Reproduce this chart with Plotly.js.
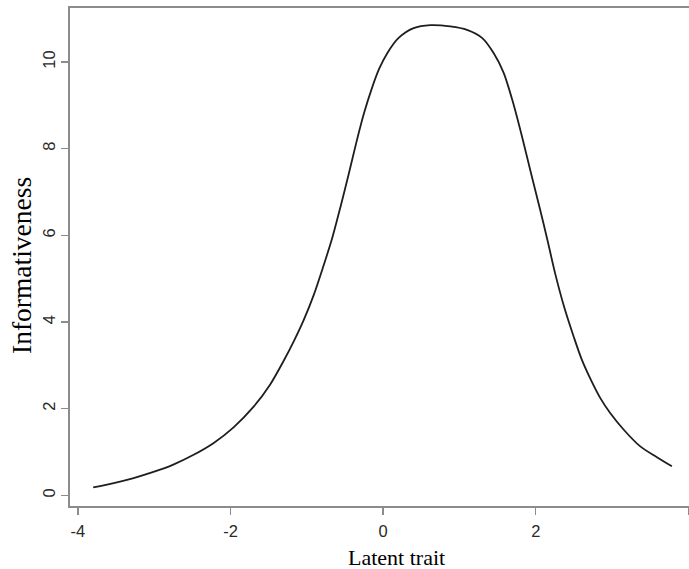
<!DOCTYPE html>
<html>
<head>
<meta charset="utf-8">
<script src="https://cdn.plot.ly/plotly-3.0.1.min.js"></script>
<style>
html,body{margin:0;padding:0;background:#fff;overflow:hidden;}
#chart{width:689px;height:569px;}
</style>
</head>
<body>
<div id="chart"></div>
<script>
// Latent trait (theta) values
const latentTrait = [-3.80,-3.53,-3.27,-3.01,-2.75,-2.49,-2.22,-1.96,-1.70,-1.48,-1.305,-1.17,-1.04,-0.91,-0.79,-0.67,-0.56,-0.45,-0.35,-0.25,-0.15,-0.05,0.06,0.20,0.40,0.62,0.88,1.10,1.30,1.45,1.58,1.70,1.82,1.94,2.05,2.155,2.256,2.374,2.50,2.60,2.714,2.845,2.976,3.151,3.37,3.588,3.785];
// Test information (informativeness) values
const informativeness = [0.185,0.285,0.40,0.54,0.71,0.93,1.21,1.57,2.04,2.56,3.10,3.56,4.05,4.62,5.25,5.92,6.65,7.42,8.15,8.82,9.38,9.85,10.22,10.55,10.78,10.85,10.82,10.74,10.55,10.20,9.75,9.08,8.28,7.42,6.65,5.88,5.11,4.34,3.65,3.15,2.70,2.25,1.90,1.52,1.13,0.88,0.67];
const xTickVals = [-4,-2,0,2,4];
const yTickVals = [0,2,4,6,8,10];
const xTitle = 'Latent trait';
const yTitle = 'Informativeness';

const trace = {
  x: latentTrait,
  y: informativeness,
  type: 'scatter',
  mode: 'lines',
  line: {color: '#1e1e1e', width: 1.8, shape: 'spline', smoothing: 0.8},
  hoverinfo: 'skip',
  showlegend: false
};

const axisColor = '#8c8c8c';
const tickFont = {family: 'Liberation Sans, Arial, sans-serif', size: 16.5, color: '#2a2a2a'};
const layout = {
  width: 689,
  height: 569,
  margin: {l: 70, r: 0, t: 8, b: 63, pad: 0},
  paper_bgcolor: '#ffffff',
  plot_bgcolor: '#ffffff',
  showlegend: false,
  xaxis: {
    range: [-4.104, 4.009],
    tickvals: xTickVals,
    ticktext: xTickVals.map(String),
    ticks: 'outside',
    ticklen: 7,
    tickwidth: 1.3,
    tickcolor: axisColor,
    ticklabelstandoff: 2,
    showline: true,
    linecolor: axisColor,
    linewidth: 1.8,
    mirror: true,
    showgrid: false,
    zeroline: false,
    automargin: false,
    tickfont: tickFont
  },
  yaxis: {
    range: [-0.2456, 11.2456],
    tickvals: yTickVals,
    ticktext: yTickVals.map(String),
    tickangle: -90,
    ticks: 'outside',
    ticklen: 7,
    tickwidth: 1.3,
    tickcolor: axisColor,
    showline: true,
    linecolor: axisColor,
    linewidth: 1.8,
    mirror: false,
    showgrid: false,
    zeroline: false,
    automargin: false,
    tickfont: tickFont
  },
  annotations: [
    {text: xTitle, xref: 'paper', yref: 'paper', x: 0.5267, y: -0.104,
     xanchor: 'center', yanchor: 'middle', showarrow: false,
     font: {family: 'Liberation Serif, Times New Roman, serif', size: 22, color: '#000'}},
    {text: yTitle, xref: 'paper', yref: 'paper', x: -0.0775, y: 0.482,
     xanchor: 'center', yanchor: 'middle', showarrow: false, textangle: -90,
     font: {family: 'Liberation Serif, Times New Roman, serif', size: 27.5, color: '#000'}}
  ]
};

Plotly.newPlot('chart', [trace], layout, {staticPlot: true, displayModeBar: false});
</script>
</body>
</html>
